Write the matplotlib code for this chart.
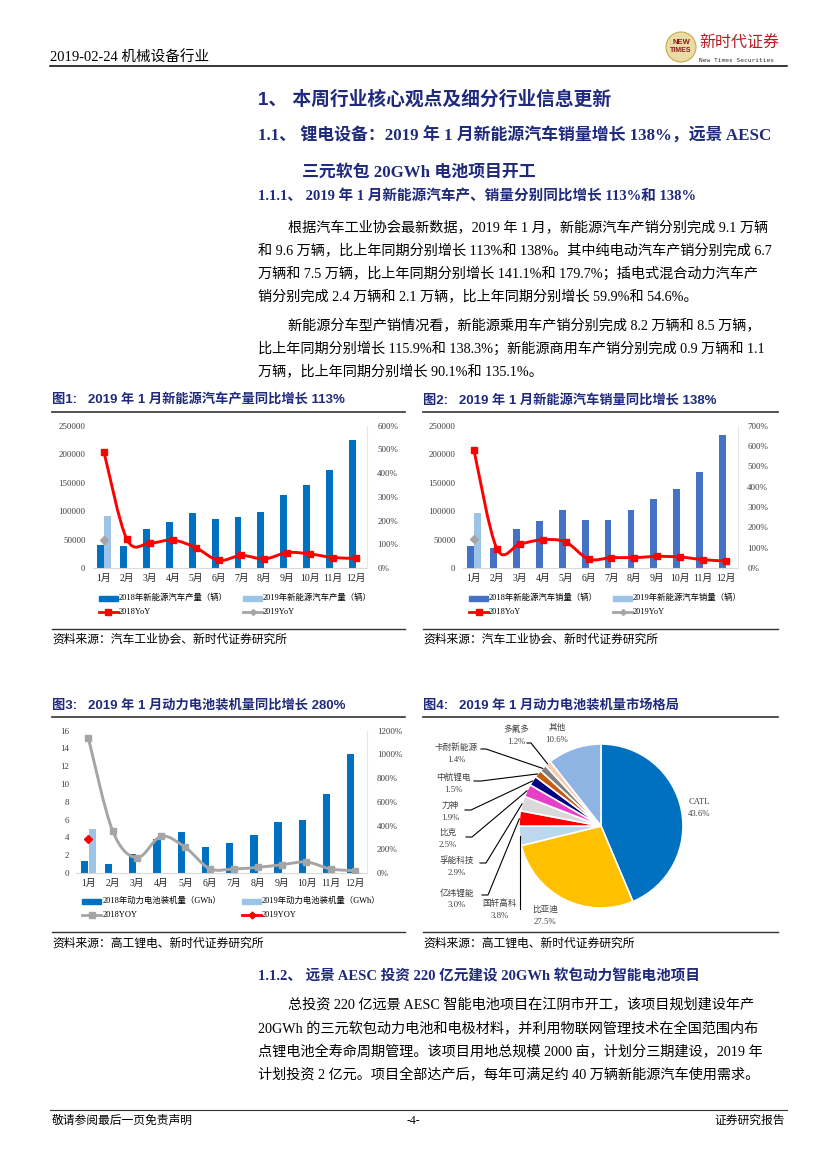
import numpy as np
import matplotlib
matplotlib.use('Agg')
import matplotlib.pyplot as plt
from matplotlib.path import Path
from matplotlib.patches import PathPatch, Rectangle, Ellipse
from matplotlib.lines import Line2D

# ---- data ----
months = ['1月', '2月', '3月', '4月', '5月', '6月', '7月', '8月', '9月', '10月', '11月', '12月']

prod_2018 = [40400, 38000, 67900, 80800, 96000, 86000, 90200, 98400, 127600, 145800, 172700, 225400]
prod_2019 = [91300]
prod_yoy_2018 = [489, 121, 105, 118, 86, 32, 53, 38, 65, 59, 44, 41]
prod_yoy_2019 = [118]

sales_2018 = [38600, 35000, 67900, 82600, 101900, 84300, 84300, 101300, 121200, 138200, 168600, 234200]
sales_2019 = [96000]
sales_yoy_2018 = [579, 95, 118, 139, 128, 44, 51, 51, 57, 54, 41, 34]
sales_yoy_2019 = [145]

batt_2018 = [1.35, 1.05, 2.1, 3.8, 4.57, 2.88, 3.37, 4.23, 5.73, 5.92, 8.91, 13.4]
batt_2019 = [5.0]
batt_yoy_2018 = [1140, 357, 129, 309, 216, 37, 34, 48, 70, 93, 34, 20]
batt_yoy_2019 = [283]

pie_names = ['CATL', '比亚迪', '国轩高科', '亿纬锂能', '孚能科技', '比克', '力神', '中航锂电', '卡耐新能源', '多氟多', '其他']
pie_values = [43.6, 27.5, 3.8, 3.0, 2.9, 2.5, 1.9, 1.5, 1.4, 1.2, 10.6]
pie_colors = ['#0070C0', '#FFC000', '#BDD7EE', '#FF0000', '#D9D9D9', '#E83FC8',
              '#000080', '#C55A11', '#7F7F7F', '#F8CBAD', '#8EB4E3']

W, H = 827, 1169
SERIF = ['Liberation Serif', 'Noto Sans CJK SC']
SANS = ['Liberation Sans', 'Noto Sans CJK SC']
NAVY = '#1f2a7c'

fig = plt.figure(figsize=(8.27, 11.69), dpi=100)


def put(x, y, s, size, family=SERIF, **kw):
    kw.setdefault('va', 'center')
    fig.text(x / W, 1 - y / H, s, fontsize=size, family=family, **kw)


def hline(x1, x2, y, lw=1.0, color='black'):
    fig.add_artist(Line2D([x1 / W, x2 / W], [1 - y / H, 1 - y / H], lw=lw, color=color,
                          transform=fig.transFigure))


def smooth(ax, x, y, **kw):
    pts = np.column_stack([x, y]).astype(float)
    n = len(pts)
    verts = [pts[0]]
    codes = [Path.MOVETO]
    for i in range(n - 1):
        p0 = pts[max(i - 1, 0)]
        p1 = pts[i]
        p2 = pts[i + 1]
        p3 = pts[min(i + 2, n - 1)]
        verts += [p1 + (p2 - p0) / 6, p2 - (p3 - p1) / 6, p2]
        codes += [Path.CURVE4] * 3
    ax.add_patch(PathPatch(Path(verts, codes), fill=False, **kw))


def leg_patch(x, y, color):
    fig.add_artist(Rectangle((x / W, 1 - (y + 2.5) / H), 19 / W, 5 / H, color=color,
                             transform=fig.transFigure))


def leg_line(x, y, color, marker, ms):
    fig.add_artist(Line2D([x / W, (x + 9.5) / W, (x + 19) / W], [1 - y / H] * 3, lw=2, color=color,
                          marker=marker, ms=ms, markevery=[1], transform=fig.transFigure))


def bar_panel(left, right, top, bottom, b18, b19, y18, y19, ymax, ystep, rmax, rstep,
              c18, c19, lc18, mk18, lc19, mk19, off):
    ax = fig.add_axes([left / W, 1 - bottom / H, (right - left) / W, (bottom - top) / H])
    x = np.arange(12)
    ax.bar(x - off, b18, 0.3, color=c18, zorder=2)
    ax.bar(x[:1] + off, b19, 0.3, color=c19, zorder=2)
    ax.set_xlim(-0.5, 11.5)
    ax.set_ylim(0, ymax)
    yt = np.arange(0, ymax + ystep / 2, ystep)
    ax.set_yticks(yt)
    ax.set_yticklabels([f'{v:g}' for v in yt], family=SERIF, fontsize=6.5, color='#404040')
    ax.set_xticks(x)
    ax.set_xticklabels(months, family=SERIF, fontsize=7, color='#262626')
    ax.tick_params(length=0, pad=4)
    ax.tick_params(axis='y', pad=5)
    for s in ['top', 'left', 'right']:
        ax.spines[s].set_visible(False)
    ax.spines['bottom'].set_color('#D9D9D9')
    ax2 = ax.twinx()
    ax2.set_ylim(0, rmax)
    rt = np.arange(0, rmax + rstep / 2, rstep)
    ax2.set_yticks(rt)
    ax2.set_yticklabels([f'{v:g}%' for v in rt], family=SERIF, fontsize=6.5, color='#404040')
    ax2.tick_params(length=0, pad=7)
    for s in ['top', 'left', 'bottom']:
        ax2.spines[s].set_visible(False)
    ax2.spines['right'].set_color('#E7E7E7')
    smooth(ax2, x, y18, edgecolor=lc18, lw=2.1, zorder=3)
    ax2.plot(x, y18, ls='none', marker=mk18, color=lc18, ms=4.5, zorder=4)
    ax2.plot(x[:1], y19, ls='none', marker=mk19, color=lc19, ms=4, zorder=4)
    return ax, ax2


# ---- page header ----
put(50, 57, '2019-02-24 机械设备行业', 10.5)
hline(50, 787, 66, lw=1.1)
fig.add_artist(Ellipse((681 / W, 1 - 47 / H), 30 / W, 30 / H, facecolor='#EADBA6', edgecolor='#C9A94E',
                       lw=0.8, transform=fig.transFigure))
put(681, 42, 'NEW', 5.5, family=SANS, ha='center', color='#8B1A1A', weight='bold')
put(681, 51, 'TIMES', 5, family=SANS, ha='center', color='#8B1A1A', weight='bold')
put(699, 44, '新时代证券', 11.5, family=SERIF, color='#B81D24')
put(699, 60, 'New Times Securities', 4.5, family=['DejaVu Sans Mono'], color='#333333')

# ---- headings and text ----
put(258, 99, '1、 本周行业核心观点及细分行业信息更新', 13.5, family=SANS, weight='bold', color=NAVY)
put(258, 136, '1.1、 锂电设备：2019 年 1 月新能源汽车销量增长 138%，远景 AESC', 12.2, weight='bold', color=NAVY)
put(302, 173, '三元软包 20GWh 电池项目开工', 12.2, weight='bold', color=NAVY)
put(258, 196, '1.1.1、 2019 年 1 月新能源汽车产、销量分别同比增长 113%和 138%', 10.5, weight='bold', color=NAVY)

para1 = ['根据汽车工业协会最新数据，2019 年 1 月，新能源汽车产销分别完成 9.1 万辆',
         '和 9.6 万辆，比上年同期分别增长 113%和 138%。其中纯电动汽车产销分别完成 6.7',
         '万辆和 7.5 万辆，比上年同期分别增长 141.1%和 179.7%；插电式混合动力汽车产',
         '销分别完成 2.4 万辆和 2.1 万辆，比上年同期分别增长 59.9%和 54.6%。']
para2 = ['新能源分车型产销情况看，新能源乘用车产销分别完成 8.2 万辆和 8.5 万辆，',
         '比上年同期分别增长 115.9%和 138.3%；新能源商用车产销分别完成 0.9 万辆和 1.1',
         '万辆，比上年同期分别增长 90.1%和 135.1%。']
para3 = ['总投资 220 亿远景 AESC 智能电池项目在江阴市开工，该项目规划建设年产',
         '20GWh 的三元软包动力电池和电极材料，并利用物联网管理技术在全国范围内布',
         '点锂电池全寿命周期管理。该项目用地总规模 2000 亩，计划分三期建设，2019 年',
         '计划投资 2 亿元。项目全部达产后，每年可满足约 40 万辆新能源汽车使用需求。']

for lines, ys in [(para1, [228, 251, 274, 297]), (para2, [326, 349, 372]),
                  (para3, [1005, 1029, 1052, 1075])]:
    for i, (s, y) in enumerate(zip(lines, ys)):
        put(288 if i == 0 else 258, y, s, 10.2)

put(258, 976, '1.1.2、 远景 AESC 投资 220 亿元建设 20GWh 软包动力智能电池项目', 10.5, weight='bold', color=NAVY)

# ---- figure titles / sources ----
titles = [(52, 400, '图1:   2019 年 1 月新能源汽车产量同比增长 113%'),
          (423, 400, '图2:   2019 年 1 月新能源汽车销量同比增长 138%'),
          (52, 705, '图3:   2019 年 1 月动力电池装机量同比增长 280%'),
          (423, 705, '图4:   2019 年 1 月动力电池装机量市场格局')]
for x, y, s in titles:
    put(x, y, s, 9.5, family=SANS, weight='bold', color=NAVY)
for x1, x2 in [(52, 405), (423, 778)]:
    hline(x1, x2, 412, lw=1.2, color='#333333')
    hline(x1, x2, 717, lw=1.2, color='#333333')
    hline(x1, x2, 629, lw=1.0, color='#333333')
    hline(x1, x2, 932, lw=1.0, color='#333333')
    put(x1, 640, '资料来源：汽车工业协会、新时代证券研究所', 8.5)
    put(x1, 944, '资料来源：高工锂电、新时代证券研究所', 8.5)

# ---- chart 1 ----
bar_panel(92.5, 367.5, 425.7, 568, prod_2018, prod_2019, prod_yoy_2018, prod_yoy_2019,
          250000, 50000, 600, 100, '#0070C0', '#9DC3E6', '#FF0000', 's', '#A5A5A5', 'D', 0.15)
leg_patch(99, 598, '#0070C0'); put(119, 598, '2018年新能源汽车产量（辆）', 6)
leg_patch(243, 598, '#9DC3E6'); put(263, 598, '2019年新能源汽车产量（辆）', 6)
leg_line(99, 612, '#FF0000', 's', 4); put(119, 612, '2018YoY', 6)
leg_line(243, 612, '#A5A5A5', 'D', 3); put(263, 612, '2019YoY', 6)

# ---- chart 2 ----
bar_panel(462.5, 737.5, 425.7, 568, sales_2018, sales_2019, sales_yoy_2018, sales_yoy_2019,
          250000, 50000, 700, 100, '#4472C4', '#9DC3E6', '#FF0000', 's', '#A5A5A5', 'D', 0.15)
leg_patch(469, 598, '#4472C4'); put(489, 598, '2018年新能源汽车销量（辆）', 6)
leg_patch(613, 598, '#9DC3E6'); put(633, 598, '2019年新能源汽车销量（辆）', 6)
leg_line(469, 612, '#FF0000', 's', 4); put(489, 612, '2018YoY', 6)
leg_line(613, 612, '#A5A5A5', 'D', 3); put(633, 612, '2019YoY', 6)

# ---- chart 3 ----
bar_panel(76.2, 367.1, 730.7, 873, batt_2018, batt_2019, batt_yoy_2018, batt_yoy_2019,
          16, 2, 1200, 200, '#0070C0', '#9DC3E6', '#A5A5A5', 's', '#FF0000', 'D', 0.17)
leg_patch(82, 901, '#0070C0'); put(103, 901, '2018年动力电池装机量（GWh）', 6)
leg_patch(242, 901, '#9DC3E6'); put(262, 901, '2019年动力电池装机量（GWh）', 6)
leg_line(82, 915, '#A5A5A5', 's', 4); put(103, 915, '2018YOY', 6)
leg_line(242, 915, '#FF0000', 'D', 3.5); put(262, 915, '2019YOY', 6)

# ---- chart 4 (pie) ----
cx, cy, R = 601, 826, 82
pl, pr, pt, pb = 430, 790, 720, 935
axp = fig.add_axes([pl / W, 1 - pb / H, (pr - pl) / W, (pb - pt) / H])
axp.pie(pie_values, colors=pie_colors, startangle=90, counterclock=False, radius=1,
        wedgeprops=dict(edgecolor='white', linewidth=1.2))
axp.set_aspect('auto')
axp.set_xlim((pl - cx) / R, (pr - cx) / R)
axp.set_ylim((cy - pb) / R, (cy - pt) / R)
axp.axis('off')


def pd(x, y):
    return (x - cx) / R, (cy - y) / R


# label positions (pixels) and leader starting points
pie_lab = {'CATL': (699, 802), '比亚迪': (545, 910), '国轩高科': (500, 904), '亿纬锂能': (457, 893),
           '孚能科技': (457, 861), '比克': (448, 833), '力神': (450, 806), '中航锂电': (453, 778),
           '卡耐新能源': (456, 748), '多氟多': (516, 730), '其他': (557, 728)}
leader = {'国轩高科': [None], '亿纬锂能': [(482, 895), (488, 895)], '孚能科技': [(480, 863), (486, 863)],
          '比克': [(466, 837), (472, 837)], '力神': [(465, 810), (471, 810)],
          '中航锂电': [(474, 781), (481, 781)], '卡耐新能源': [(481, 749), (486, 749)],
          '多氟多': [(527, 743), (531, 743)]}

cum = 0
for name, v in zip(pie_names, pie_values):
    mid = cum + v / 2
    cum += v
    ang = np.deg2rad(90 - 360 * mid / 100)
    ex, ey = np.cos(ang), np.sin(ang)
    lx, ly = pie_lab[name]
    put(lx, ly, name, 6.2, ha='center', color='#404040')
    put(lx, ly + 12, f'{v}%', 6.3, ha='center', color='#404040')
    if name in leader:
        if leader[name][0] is None:
            px = [ex, ex]
            py = [pd(0, 909)[1], ey]
        else:
            p = [pd(*q) for q in leader[name]]
            px = [q[0] for q in p] + [ex]
            py = [q[1] for q in p] + [ey]
        axp.plot(px, py, color='black', lw=0.8, clip_on=False)

# ---- footer ----
hline(50, 787, 1110, lw=0.8, color='#333333')
put(52, 1121, '敬请参阅最后一页免责声明', 8.5)
put(413, 1121, '-4-', 8.5, ha='center')
put(785, 1121, '证券研究报告', 8.5, ha='right')

fig.savefig('out.png', dpi=100)
